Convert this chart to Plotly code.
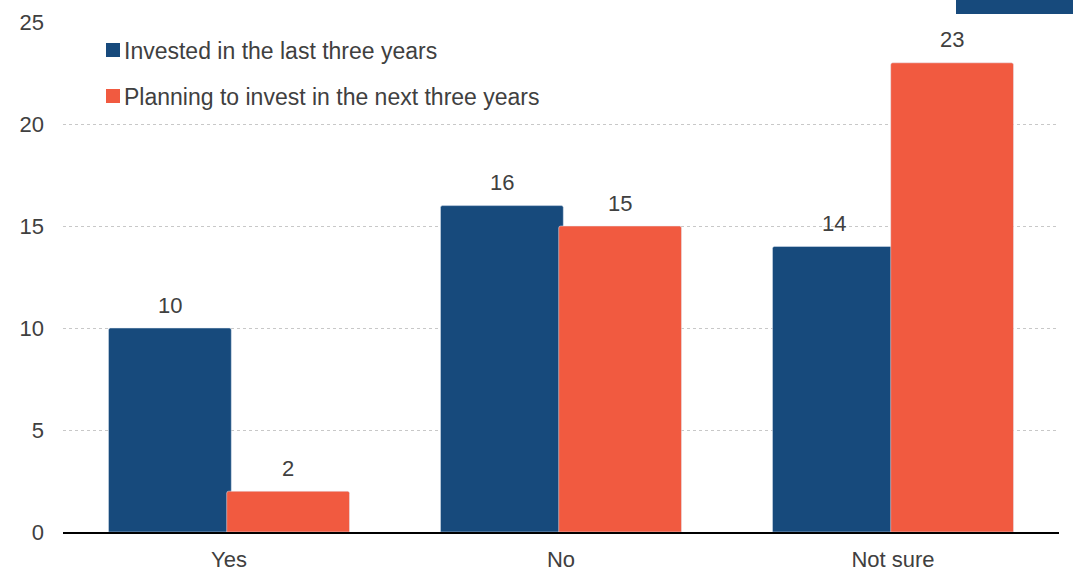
import plotly.graph_objects as go

categories = ["Yes", "No", "Not sure"]
invested_last3 = [10, 16, 14]
planning_next3 = [2, 15, 23]
series_names = ["Invested in the last three years", "Planning to invest in the next three years"]
y_ticks = [0, 5, 10, 15, 20, 25]

BLUE = "#174A7C"
RED = "#F15A40"
TXT = "#404040"
FONT = "Liberation Sans, Arial, sans-serif"
FS = 22

BAR_W = 0.37
OFFSETS = [-0.363, -0.007]
colors = [BLUE, RED]
series = [invested_last3, planning_next3]

fig = go.Figure()
for vals, name, col, off in zip(series, series_names, colors, OFFSETS):
    fig.add_trace(go.Bar(
        x=categories, y=vals, name=name, marker_color=col,
        width=BAR_W, offset=off, showlegend=False,
    ))

annotations = []
for vals, off in zip(series, OFFSETS):
    for i, v in enumerate(vals):
        annotations.append(dict(
            x=i + off + BAR_W / 2, y=v, xref="x", yref="y", text=str(v),
            showarrow=False, yanchor="middle", yshift=23,
            font=dict(size=FS, color=TXT, family=FONT),
        ))

# manual legend (paper coordinates derived from pixel layout)
def px_x(p):
    return (p - 63) / 996

def px_y(p):
    return (532 - p) / 510

shapes = []
legend_rows = [50, 96]
for name, col, ry in zip(series_names, colors, legend_rows):
    shapes.append(dict(type="rect", xref="paper", yref="paper",
                       x0=px_x(106), x1=px_x(120), y0=px_y(ry + 7), y1=px_y(ry - 7),
                       fillcolor=col, line_width=0))
    annotations.append(dict(x=px_x(122), y=px_y(ry + 1), xref="paper", yref="paper",
                            text=name, showarrow=False, xanchor="left", yanchor="middle",
                            font=dict(size=23, color=TXT, family=FONT)))

# partial logo block at top right
shapes.append(dict(type="rect", xref="paper", yref="paper",
                   x0=px_x(956), x1=px_x(1075), y0=px_y(14), y1=px_y(-5),
                   fillcolor=BLUE, line_width=0, layer="above"))

fig.update_layout(
    width=1073, height=572,
    margin=dict(l=63, r=14, t=22, b=40, autoexpand=False),
    paper_bgcolor="white", plot_bgcolor="white",
    font=dict(family=FONT, size=FS, color=TXT),
    barmode="overlay",
    barcornerradius=2,
    showlegend=False,
    yaxis=dict(
        range=[0, 25], tickvals=y_ticks, showgrid=True,
        gridcolor="#c8c8c8", griddash="dot", gridwidth=1,
        zeroline=False, showline=False, ticks="", automargin=False,
        ticklabelstandoff=18, tickfont=dict(size=FS, color=TXT),
    ),
    xaxis=dict(
        showline=True, linecolor="black", linewidth=2, ticks="", automargin=False,
        ticklabelstandoff=7, tickfont=dict(size=FS, color=TXT),
    ),
    shapes=shapes,
    annotations=annotations,
)

fig.write_html(
    "out.html",
    config={"displayModeBar": False},
    post_script="document.body.style.margin='0';document.body.style.overflow='hidden';",
)
